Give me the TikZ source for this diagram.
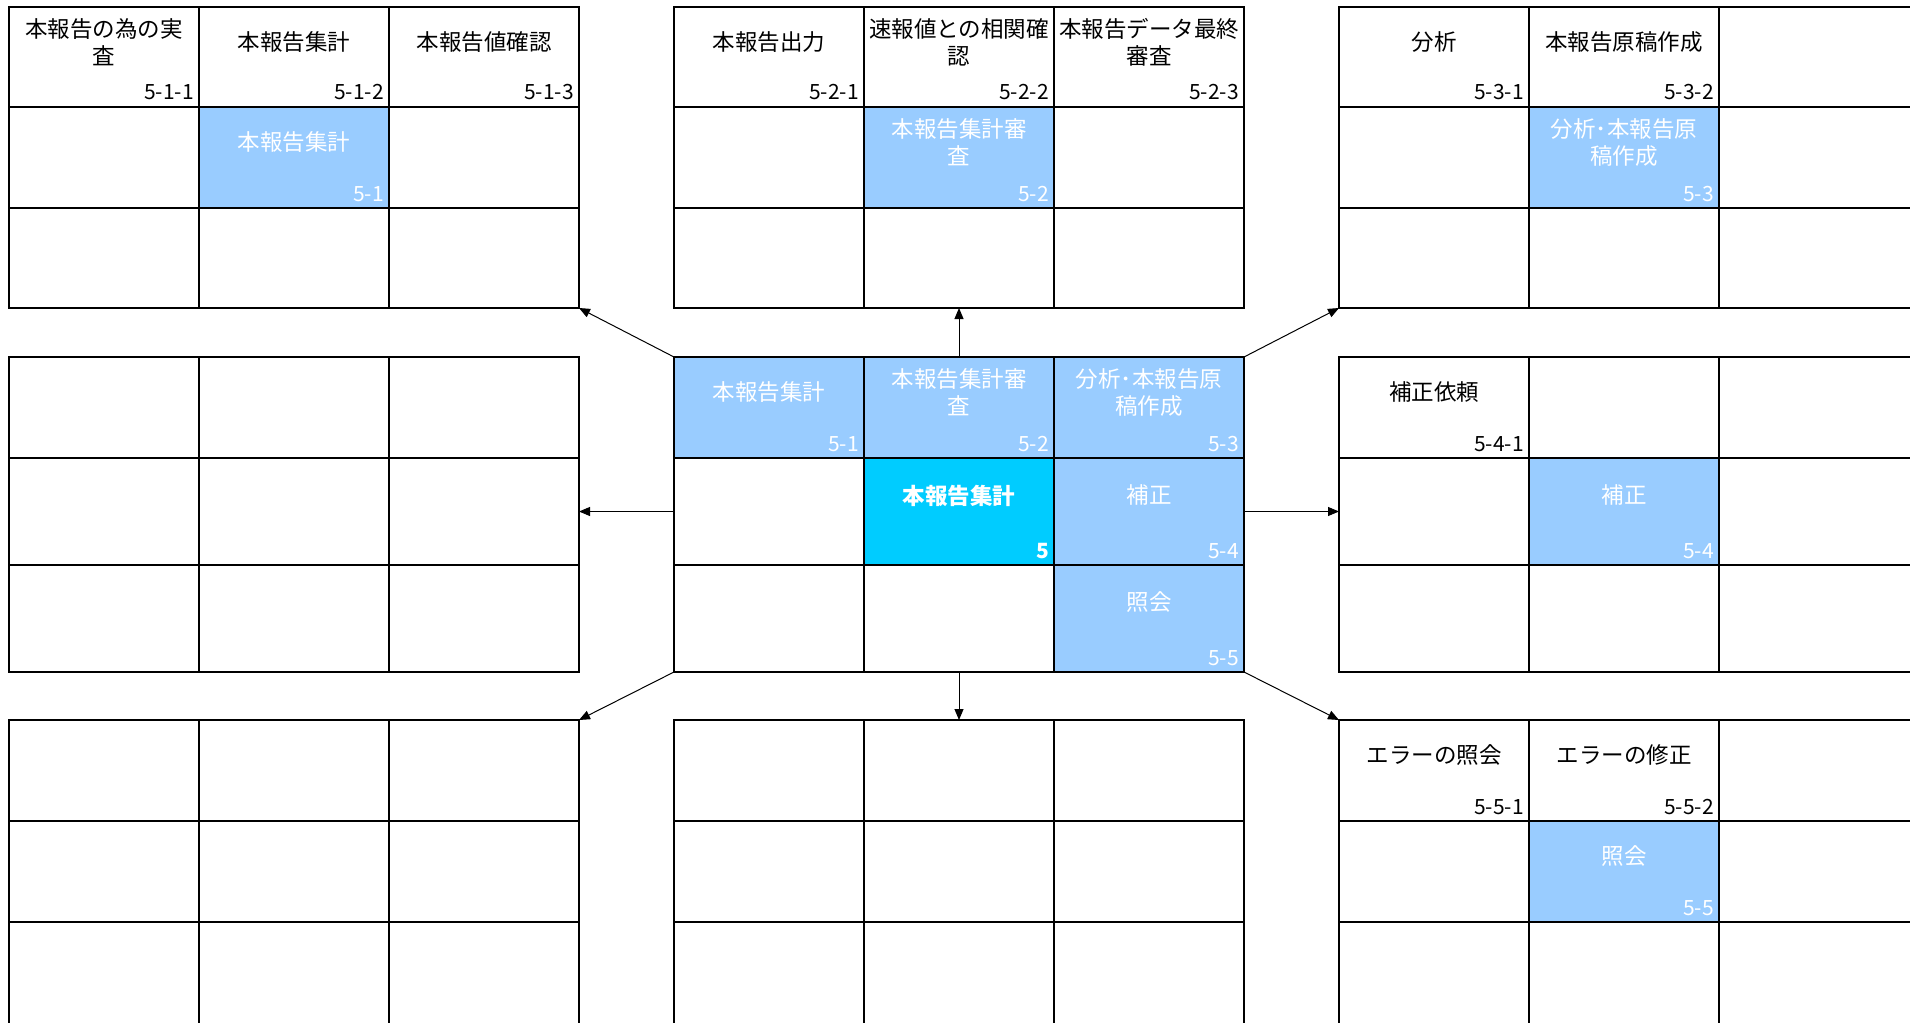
\documentclass[tikz,border=0pt]{standalone}
\usepackage{fontspec}
\setmainfont{Noto Sans CJK JP}
\usetikzlibrary{arrows.meta,calc}
\definecolor{lblue}{HTML}{99CCFF}
\definecolor{cyanc}{HTML}{00CCFF}
\tikzset{
 cellbox/.style={draw=black, line width=2.2pt, inner sep=0pt, outer sep=0pt},
 ttl/.style={font=\fontsize{22.5}{27}\selectfont, align=center, inner sep=0pt, anchor=center},
 numlbl/.style={font=\fontsize{21}{24}\selectfont, inner sep=0pt, anchor=base east},
 conn/.style={line width=1pt, -{Triangle[length=11pt,width=9pt]}},
}
\newcommand\emptycell[5]{\node[cellbox, minimum width={#4-#2}, minimum height={#5-#3}] (#1) at ({(#2+#4)/2},{(#3+#5)/2}) {};}
\newcommand\filledcell[2]{\draw[cellbox, fill=#2] (#1.north west) rectangle (#1.south east);}
\newcommand\celltext[4]{%
 \node[ttl, text=#2] (#1-t) at ($(#1.north)!0.35!(#1.south)$) {#3};
 \node[numlbl, text=#2] (#1-n) at ($(#1.south east)+(-5,-7)$) {#4};}
\begin{document}
\begin{tikzpicture}[x=1pt,y=-1pt]
\useasboundingbox (0,0) rectangle (1910,1022);
\fill[white] (0,0) rectangle (1910,1022);
\foreach \xa/\xb/\xc/\xd/\gn in {9/199/389/579/L,674/864/1054/1244/M,1339/1529/1719/1914/R}{
 \foreach \ya/\yb/\yc/\yd/\gr in {7/107/208/308/T,357/458/565/672/C,720/821/922/1026/B}{
  \emptycell{\gn\gr-1-1}{\xa}{\ya}{\xb}{\yb}
  \emptycell{\gn\gr-1-2}{\xb}{\ya}{\xc}{\yb}
  \emptycell{\gn\gr-1-3}{\xc}{\ya}{\xd}{\yb}
  \emptycell{\gn\gr-2-1}{\xa}{\yb}{\xb}{\yc}
  \emptycell{\gn\gr-2-2}{\xb}{\yb}{\xc}{\yc}
  \emptycell{\gn\gr-2-3}{\xc}{\yb}{\xd}{\yc}
  \emptycell{\gn\gr-3-1}{\xa}{\yc}{\xb}{\yd}
  \emptycell{\gn\gr-3-2}{\xb}{\yc}{\xc}{\yd}
  \emptycell{\gn\gr-3-3}{\xc}{\yc}{\xd}{\yd}
 }}
% filled cells
\filledcell{LT-2-2}{lblue}
\filledcell{MT-2-2}{lblue}
\filledcell{RT-2-2}{lblue}
\filledcell{MC-1-1}{lblue}
\filledcell{MC-1-2}{lblue}
\filledcell{MC-1-3}{lblue}
\filledcell{MC-2-2}{cyanc}
\filledcell{MC-2-3}{lblue}
\filledcell{MC-3-3}{lblue}
\filledcell{RC-2-2}{lblue}
\filledcell{RB-2-2}{lblue}
% texts: top-left
\celltext{LT-1-1}{black}{本報告の為の実\\査}{5-1-1}
\celltext{LT-1-2}{black}{本報告集計}{5-1-2}
\celltext{LT-1-3}{black}{本報告値確認}{5-1-3}
\celltext{LT-2-2}{white}{本報告集計}{5-1}
% top-middle
\celltext{MT-1-1}{black}{本報告出力}{5-2-1}
\celltext{MT-1-2}{black}{速報値との相関確\\認}{5-2-2}
\celltext{MT-1-3}{black}{本報告データ最終\\審査}{5-2-3}
\celltext{MT-2-2}{white}{本報告集計審\\査}{5-2}
% top-right
\celltext{RT-1-1}{black}{分析}{5-3-1}
\celltext{RT-1-2}{black}{本報告原稿作成}{5-3-2}
\celltext{RT-2-2}{white}{分析･本報告原\\稿作成}{5-3}
% center
\celltext{MC-1-1}{white}{本報告集計}{5-1}
\celltext{MC-1-2}{white}{本報告集計審\\査}{5-2}
\celltext{MC-1-3}{white}{分析･本報告原\\稿作成}{5-3}
\celltext{MC-2-2}{white}{\bfseries 本報告集計}{\bfseries 5}
\celltext{MC-2-3}{white}{補正}{5-4}
\celltext{MC-3-3}{white}{照会}{5-5}
% middle-right
\celltext{RC-1-1}{black}{補正依頼}{5-4-1}
\celltext{RC-2-2}{white}{補正}{5-4}
% bottom-right
\celltext{RB-1-1}{black}{エラーの照会}{5-5-1}
\celltext{RB-1-2}{black}{エラーの修正}{5-5-2}
\celltext{RB-2-2}{white}{照会}{5-5}
% connectors
\draw[conn] (MC-1-1.north west) -- (LT-3-3.south east);
\draw[conn] (MC-1-2.north) -- (MT-3-2.south);
\draw[conn] (MC-1-3.north east) -- (RT-3-1.south west);
\draw[conn] (MC-2-1.west) -- (LC-2-3.east);
\draw[conn] (MC-2-3.east) -- (RC-2-1.west);
\draw[conn] (MC-3-1.south west) -- (LB-1-3.north east);
\draw[conn] (MC-3-2.south) -- (MB-1-2.north);
\draw[conn] (MC-3-3.south east) -- (RB-1-1.north west);
\end{tikzpicture}
\end{document}
